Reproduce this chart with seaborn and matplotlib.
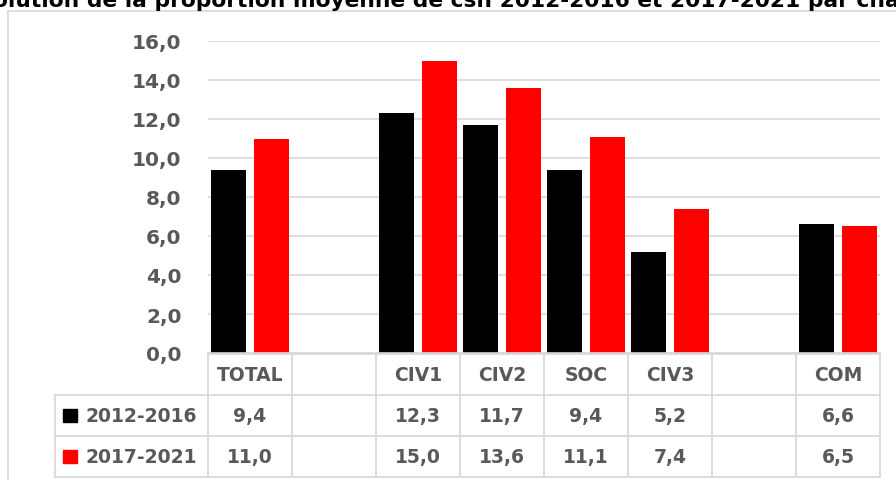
import matplotlib
matplotlib.use("Agg")
import matplotlib.pyplot as plt
from matplotlib.lines import Line2D
from matplotlib.patches import Rectangle
import seaborn as sns
import pandas as pd
import numpy as np

sns.set_theme(style="white")
plt.rcParams['font.family'] = ['DejaVu Sans']

# --- DATA ---
categories = ['TOTAL', ' ', 'CIV1', 'CIV2', 'SOC', 'CIV3', '  ', 'COM']
periods = ['2012-2016', '2017-2021']
vals_2012 = [9.4, np.nan, 12.3, 11.7, 9.4, 5.2, np.nan, 6.6]
vals_2017 = [11.0, np.nan, 15.0, 13.6, 11.1, 7.4, np.nan, 6.5]
colors = ['#000000', '#ff0000']
title = "Évolution de la proportion moyenne de csn 2012-2016 et 2017-2021 par chambre"

df = pd.DataFrame({
    'cat': categories * 2,
    'period': [periods[0]] * len(categories) + [periods[1]] * len(categories),
    'val': vals_2012 + vals_2017,
})

W, H = 896, 481
fig = plt.figure(figsize=(W / 100, H / 100), dpi=100)
txt_col = '#595959'
grid_col = '#d9d9d9'

def fx(px):
    return px / W

def fy(py):
    return 1 - py / H

# main bar axes
ax = fig.add_axes([fx(208), fy(354), fx(880) - fx(208), fy(42) - fy(354)])
sns.barplot(data=df, x='cat', y='val', hue='period', order=categories,
            hue_order=periods, palette=colors, saturation=1, width=1.02, gap=0.18,
            ax=ax, legend=False, linewidth=0, errorbar=None)
ax.set_ylim(0, 16)
ax.set_xlim(-0.5, len(categories) - 0.5)
ax.set_yticks(np.arange(0, 17, 2))
ax.set_yticklabels([f"{v:.1f}".replace('.', ',') for v in np.arange(0, 17, 2)],
                   fontsize=14.5, fontweight='bold', color=txt_col)
ax.tick_params(axis='y', length=0, pad=19)
ax.set_xticks([])
ax.set_xlabel('')
ax.set_ylabel('')
for s in ['top', 'right', 'left']:
    ax.spines[s].set_visible(False)
ax.spines['bottom'].set_color(grid_col)
ax.spines['bottom'].set_linewidth(1.2)
ax.yaxis.grid(True, color=grid_col, linewidth=1.2)
ax.set_axisbelow(True)

# data table below the chart
n = len(categories)
xmin = -0.5 - 153 / 84
tab = fig.add_axes([fx(55), fy(478), fx(880) - fx(55), fy(355) - fy(478)])
tab.set_xlim(xmin, n - 0.5)
tab.set_ylim(3, 0)
tab.axis('off')
lk = dict(color=grid_col, linewidth=1.3, clip_on=False)
tab.plot([-0.5, n - 0.5], [0, 0], **lk)
for r in [1, 2, 3]:
    tab.plot([xmin, n - 0.5], [r, r], **lk)
for k in range(n + 1):
    tab.plot([-0.5 + k, -0.5 + k], [0, 3], **lk)
tab.plot([xmin, xmin], [1, 3], **lk)

tk = dict(ha='center', va='center', fontsize=13.5, fontweight='bold', color=txt_col)
for i, c in enumerate(categories):
    tab.text(i, 0.5, c.strip(), **tk)
    for r, series in enumerate([vals_2012, vals_2017]):
        v = series[i]
        if not np.isnan(v):
            tab.text(i, 1.5 + r, f"{v:.1f}".replace('.', ','), **tk)

for r, (p, c) in enumerate(zip(periods, colors)):
    tab.add_patch(Rectangle((xmin + 8 / 84, 1.5 + r - 0.17), 14 / 84, 0.34,
                            color=c, clip_on=False))
    tab.text(xmin + 30 / 84, 1.5 + r, p, ha='left', va='center',
             fontsize=13.5, fontweight='bold', color=txt_col)

# chart frame
fig.add_artist(Line2D([fx(8), 1], [fy(12), fy(12)], color=grid_col, linewidth=1.2))
fig.add_artist(Line2D([fx(8), fx(8)], [fy(12), 0], color=grid_col, linewidth=1.2))

# title, cropped at the top edge as in the source image
fig.text(fx(-36), fy(7), title, ha='left', va='baseline', fontsize=15.7,
         fontweight='bold', color='black')

fig.savefig('out.png', dpi=100)
